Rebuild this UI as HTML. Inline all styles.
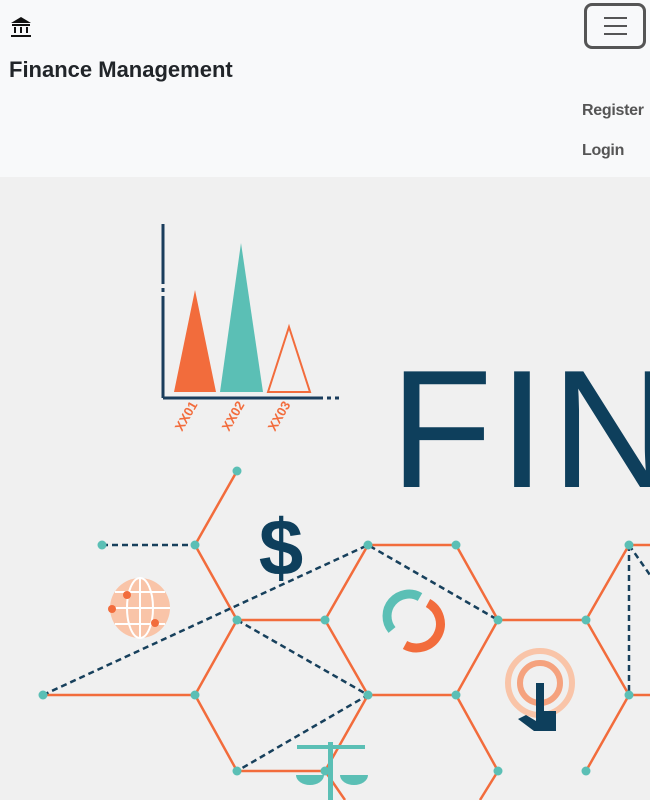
<!DOCTYPE html>
<html><head><meta charset="utf-8"><style>
body{margin:0;width:650px;height:800px;overflow:hidden;font-family:"Liberation Sans",sans-serif;background:#f0f0f0}
nav{position:absolute;left:0;top:0;width:650px;height:177px;background:#f8f9fa}
.brand{position:absolute;left:9px;top:57px;font-size:22px;font-weight:bold;color:#212529}
.toggler{position:absolute;left:584px;top:3px;width:62px;height:46px;border:3px solid #555;border-radius:8px;box-sizing:border-box}
.toggler i{position:absolute;left:17px;width:23px;height:2px;background:#555}
.link{position:absolute;left:582px;font-size:16px;font-weight:bold;color:#555;letter-spacing:-0.3px}
</style></head><body>
<nav>
<svg style="position:absolute;left:10px;top:16px" width="22" height="22" viewBox="0 0 22 22"><path d="M11 1 L21 7 L1 7Z" fill="#111"/><rect x="2" y="8" width="18" height="2" fill="#111"/><rect x="4" y="11" width="2" height="6" fill="#111"/><rect x="10" y="11" width="2" height="6" fill="#111"/><rect x="16" y="11" width="2" height="6" fill="#111"/><rect x="1" y="19" width="20" height="2" fill="#111"/></svg>
<div class="brand">Finance Management</div>
<div class="toggler"><i style="top:11px"></i><i style="top:19px"></i><i style="top:27px"></i></div>
<div class="link" style="top:102px">Register</div>
<div class="link" style="top:142px">Login</div>
</nav>
<svg style="position:absolute;left:0;top:177px" width="650" height="623" viewBox="0 177 650 623">
<rect x="0" y="177" width="650" height="623" fill="#f0f0f0"/>
<g>
<line x1="163" y1="224" x2="163" y2="398" stroke="#1a3d5c" stroke-width="3" stroke-dasharray="60,4,4,4,200"/>
<line x1="163" y1="398" x2="350" y2="398" stroke="#1a3d5c" stroke-width="3" stroke-dasharray="160,4,4,4,4"/>
<polygon points="174,392 195,290 216,392" fill="#f26c3c"/>
<polygon points="220,392 241,243 263,392" fill="#5bbfb5"/>
<polygon points="268,392 289,327 310,392" fill="none" stroke="#f26c3c" stroke-width="2"/>
<text x="182" y="432" transform="rotate(-60 182 432)" font-size="13" fill="#f26c3c" font-weight="bold">XX01</text>
<text x="229" y="432" transform="rotate(-60 229 432)" font-size="13" fill="#f26c3c" font-weight="bold">XX02</text>
<text x="275" y="432" transform="rotate(-60 275 432)" font-size="13" fill="#f26c3c" font-weight="bold">XX03</text>
</g>
<text x="390" y="487" font-size="168" fill="#0e3f5c" font-family="Liberation Sans" letter-spacing="6">FIN</text>
<g stroke="#f26c3c" stroke-width="2.5" fill="none">
<path d="M237 471L195 545L237 620L325 620L368 545L456 545L498 620L586 620L629 545L650 545"/>
<path d="M586 620L629 695L650 695M498 620L456 695L368 695L325 620M237 620L195 695L43 695M195 695L237 771L325 771L345 800M368 695L325 771M456 695L498 771L480 800M629 695L586 771"/>
</g>
<g stroke="#17405c" stroke-width="2.5" stroke-dasharray="6,4" fill="none">
<path d="M102 545L195 545M43 695L368 545L498 620M237 620L368 695L237 771M629 545L629 695M629 545L650 575"/>
</g>
<g fill="#5bbfb5">
<circle cx="237" cy="471" r="4.5"/><circle cx="195" cy="545" r="4.5"/><circle cx="102" cy="545" r="4.5"/><circle cx="237" cy="620" r="4.5"/><circle cx="325" cy="620" r="4.5"/><circle cx="368" cy="545" r="4.5"/><circle cx="456" cy="545" r="4.5"/><circle cx="498" cy="620" r="4.5"/><circle cx="586" cy="620" r="4.5"/><circle cx="629" cy="545" r="4.5"/><circle cx="629" cy="695" r="4.5"/><circle cx="456" cy="695" r="4.5"/><circle cx="368" cy="695" r="4.5"/><circle cx="195" cy="695" r="4.5"/><circle cx="43" cy="695" r="4.5"/><circle cx="237" cy="771" r="4.5"/><circle cx="325" cy="771" r="4.5"/><circle cx="498" cy="771" r="4.5"/><circle cx="586" cy="771" r="4.5"/>
</g>
<text x="281" y="575" text-anchor="middle" font-size="80" font-weight="bold" fill="#0e3f5c">$</text>
<g><circle cx="140" cy="608" r="30" fill="#f9c4a8"/><path d="M110 608H170M140 578V638M115 592H165M115 624H165" stroke="#fff" stroke-width="2"/><ellipse cx="140" cy="608" rx="13" ry="30" fill="none" stroke="#fff" stroke-width="2"/><circle cx="127" cy="595" r="4" fill="#f26c3c"/><circle cx="112" cy="609" r="4" fill="#f26c3c"/><circle cx="155" cy="623" r="4" fill="#f26c3c"/></g>
<g fill="none" stroke-width="9"><path d="M392 630A22 22 0 0 1 420 597" stroke="#5bbfb5"/><path d="M428 603A22 22 0 0 1 405 645" stroke="#f26c3c"/></g>
<g><circle cx="540" cy="683" r="32" fill="none" stroke="#f9c4a8" stroke-width="6"/><circle cx="540" cy="683" r="20" fill="none" stroke="#f5a27e" stroke-width="6"/><path d="M536 683h8v28h12v20h-22l-16-12 8-4 10 6z" fill="#0e3f5c"/></g>
<g fill="#5bbfb5"><rect x="328" y="742" width="5" height="58"/><rect x="297" y="745" width="68" height="4"/><path d="M296 775h28a14 10 0 0 1 -28 0z"/><path d="M340 775h28a14 10 0 0 1 -28 0z"/></g>
</svg>
</body></html>
